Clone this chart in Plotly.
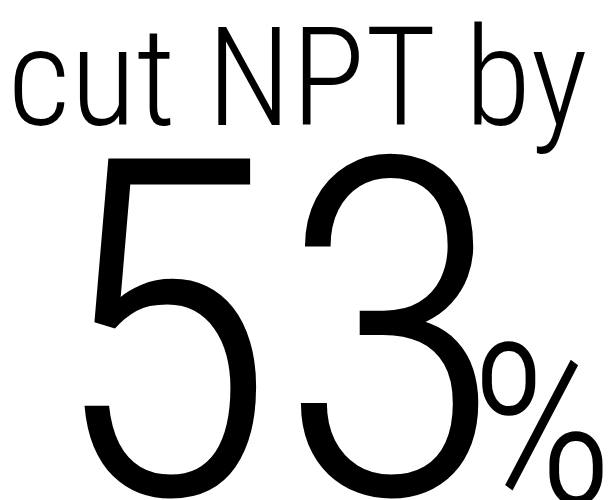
import plotly.graph_objects as go

# ---- data ----
headline = "cut NPT by"
reduction_value = 53
unit_label = "%"

FONT = "Roboto Condensed, Liberation Sans Narrow, DejaVu Sans Condensed, sans-serif"
W, H = 612, 500


def px(x):
    return x / W


def py(y):
    return 1 - y / H


fig = go.Figure()

fig.add_annotation(
    text=headline, x=px(0), y=py(150), xref="paper", yref="paper",
    xanchor="left", yanchor="bottom", showarrow=False,
    borderpad=0, borderwidth=0,
    font=dict(family=FONT, size=137, color="#000000", weight=300),
)
fig.add_annotation(
    text=str(reduction_value), x=px(40), y=py(601), xref="paper", yref="paper",
    xanchor="left", yanchor="bottom", showarrow=False,
    borderpad=0, borderwidth=0,
    font=dict(family=FONT, size=472, color="#000000", weight=300),
)
fig.add_annotation(
    text=unit_label, x=px(462), y=py(551), xref="paper", yref="paper",
    xanchor="left", yanchor="bottom", showarrow=False,
    borderpad=0, borderwidth=0,
    font=dict(family=FONT, size=225, color="#000000", weight=300),
)

fig.update_xaxes(range=[0, W], visible=False, fixedrange=True)
fig.update_yaxes(range=[H, 0], visible=False, fixedrange=True)
fig.update_layout(
    width=W, height=H,
    margin=dict(l=0, r=0, t=0, b=0),
    paper_bgcolor="white", plot_bgcolor="white",
    showlegend=False,
)

fig.write_html("out.html")
